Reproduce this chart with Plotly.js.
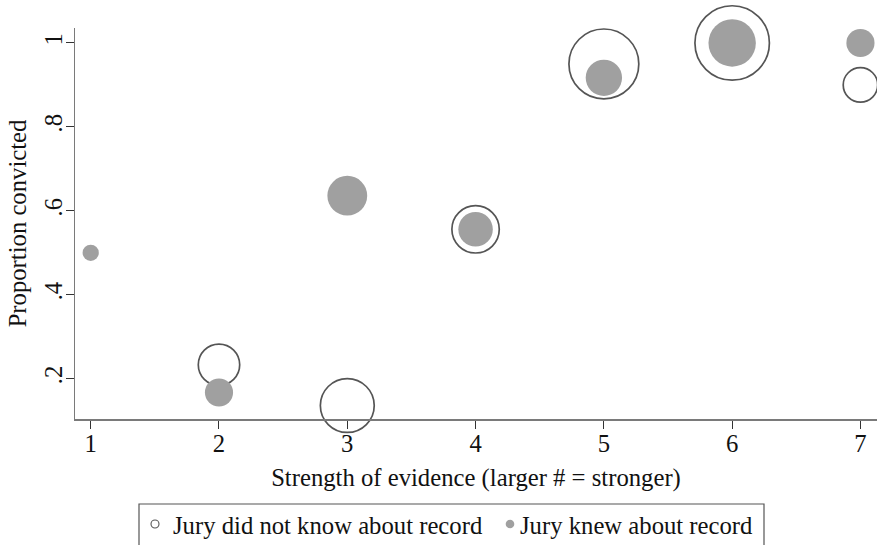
<!DOCTYPE html>
<html>
<head>
<meta charset="utf-8">
<script src="https://cdn.plot.ly/plotly-3.0.1.min.js"></script>
<style>html,body{margin:0;padding:0;background:#fff;}#chart{width:877px;height:545px;}</style>
</head>
<body>
<div id="chart"></div>
<script>
// ---- data ----
var evidence = [1, 2, 3, 4, 5, 6, 7];
var notKnowX = [2, 3, 4, 5, 6, 7];
var notKnowProp = [0.233, 0.136, 0.556, 0.95, 1.0, 0.9];
var notKnowN = [13, 22, 17, 37, 42, 9];
var knewX = [1, 2, 3, 4, 5, 6, 7];
var knewProp = [0.5, 0.167, 0.636, 0.556, 0.917, 1.0, 1.0];
var knewN = [2, 6, 12, 9, 10, 17, 6];
var yTickVals = [0.2, 0.4, 0.6, 0.8, 1];
var yTickText = ['.2', '.4', '.6', '.8', '1'];
var legendLabels = ['Jury did not know about record', 'Jury knew about record'];

// ---- layout helpers ----
var W = 877, H = 545, L = 75, R = 0, T = 28, B = 126;
var pw = W - L - R, ph = H - T - B;
function px(p) { return (p - L) / pw; }
function py(p) { return (H - B - p) / ph; }
var FONT = '"Liberation Serif", "Times New Roman", Times, "DejaVu Serif", serif';
var FS = 24.7;
var SIZEREF = 1 / 66;
var TXT = '#111111';

var traces = [
  {
    x: notKnowX, y: notKnowProp, type: 'scatter', mode: 'markers',
    name: legendLabels[0], cliponaxis: false, showlegend: false,
    marker: { size: notKnowN, sizemode: 'area', sizeref: SIZEREF, opacity: 1,
      color: 'rgba(0,0,0,0)', line: { color: '#555555', width: 1.7 } },
    hoverinfo: 'x+y'
  },
  {
    x: knewX, y: knewProp, type: 'scatter', mode: 'markers',
    name: legendLabels[1], cliponaxis: false, showlegend: false,
    marker: { size: knewN, sizemode: 'area', sizeref: SIZEREF, opacity: 1,
      color: '#a0a0a0', line: { width: 0 } },
    hoverinfo: 'x+y'
  }
];

var layout = {
  width: W, height: H,
  margin: { l: L, r: R, t: T, b: B, autoexpand: false },
  paper_bgcolor: '#ffffff', plot_bgcolor: '#ffffff',
  font: { family: FONT, size: FS, color: TXT },
  showlegend: false,
  xaxis: {
    range: [0.8776, 7.129], tickvals: evidence, ticktext: evidence.map(String),
    showgrid: false, zeroline: false, showline: true, linecolor: '#7a7a7a', linewidth: 1.5,
    ticks: 'outside', ticklen: 8, tickwidth: 1, tickcolor: '#333333', ticklabelstandoff: -6,
    tickfont: { family: FONT, size: FS, color: TXT },
    title: { text: 'Strength of evidence (larger # = stronger)', font: { family: FONT, size: FS, color: TXT }, standoff: 12 },
    automargin: false, fixedrange: true
  },
  yaxis: {
    range: [0.1039, 1.0357], tickvals: yTickVals, ticktext: yTickText, tickangle: -90,
    showgrid: false, zeroline: false, showline: true, linecolor: '#7a7a7a', linewidth: 1.5,
    ticks: 'outside', ticklen: 8, tickwidth: 1, tickcolor: '#333333', ticklabelstandoff: -6,
    tickfont: { family: FONT, size: FS, color: TXT },
    title: { text: 'Proportion convicted', font: { family: FONT, size: FS, color: TXT }, standoff: 6 },
    automargin: false, fixedrange: true
  },
  shapes: [
    { type: 'rect', xref: 'paper', yref: 'paper', x0: px(139), x1: px(764), y0: py(504), y1: py(575),
      line: { color: '#555555', width: 1.2 }, fillcolor: 'rgba(0,0,0,0)', layer: 'above' },
    { type: 'circle', xref: 'paper', yref: 'paper', xsizemode: 'pixel', ysizemode: 'pixel',
      xanchor: px(155), yanchor: py(524), x0: -4, x1: 4, y0: -4, y1: 4,
      line: { color: '#555555', width: 1.1 }, fillcolor: 'rgba(0,0,0,0)' },
    { type: 'circle', xref: 'paper', yref: 'paper', xsizemode: 'pixel', ysizemode: 'pixel',
      xanchor: px(510), yanchor: py(524), x0: -4.3, x1: 4.3, y0: -4.3, y1: 4.3,
      line: { width: 0 }, fillcolor: '#a0a0a0' }
  ],
  annotations: [
    { xref: 'paper', yref: 'paper', x: px(171), y: py(525), xanchor: 'left', yanchor: 'middle',
      text: legendLabels[0], showarrow: false, font: { family: FONT, size: FS, color: TXT } },
    { xref: 'paper', yref: 'paper', x: px(518), y: py(525), xanchor: 'left', yanchor: 'middle',
      text: legendLabels[1], showarrow: false, font: { family: FONT, size: FS, color: TXT } }
  ]
};

Plotly.newPlot('chart', traces, layout, { staticPlot: true, displayModeBar: false });
</script>
</body>
</html>
